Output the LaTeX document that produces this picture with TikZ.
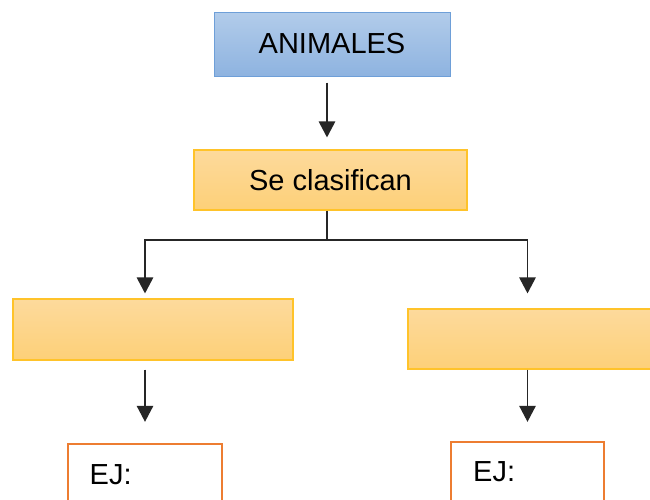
\documentclass[tikz,border=0pt]{standalone}
\usepackage{fontspec}
\setmainfont{Liberation Sans}
\usetikzlibrary{arrows.meta}
\definecolor{bluetop}{HTML}{B2CCEA}
\definecolor{bluebot}{HTML}{8EB3E0}
\definecolor{blueline}{HTML}{6E9FD8}
\definecolor{ortop}{HTML}{FDDA9C}
\definecolor{orbot}{HTML}{FDD078}
\definecolor{orline}{HTML}{FFC32A}
\definecolor{ejline}{HTML}{ED7D31}
\tikzset{
  x=1pt, y=-1pt,
  bluebox/.style={draw=blueline, line width=1pt, top color=bluetop, bottom color=bluebot, inner sep=0pt},
  orbox/.style={draw=orline, line width=1.2pt, top color=ortop, bottom color=orbot, inner sep=0pt},
  ejbox/.style={draw=ejline, line width=2.4pt, fill=white, inner sep=0pt},
  lbl/.style={font=\fontsize{29}{33}\selectfont, inner sep=0pt},
  conn/.style={draw=black!85, line width=1.3pt},
  arr/.style={conn, -{Triangle[width=16.5pt,length=16pt]}},
}
\begin{document}
\begin{tikzpicture}
\useasboundingbox (0,0) rectangle (650,499);
\clip (0,0) rectangle (650,499);
\fill[white] (0,0) rectangle (650,499);
\node[bluebox, minimum width=236pt, minimum height=64pt] (a) at (332,44) {};
\node[lbl] (at) at (332,44) {ANIMALES};
\node[orbox, minimum width=273pt, minimum height=60pt] (b) at (330.5,180) {};
\node[lbl] (bt) at (330.5,180) {Se clasifican};
\node[orbox, minimum width=280pt, minimum height=61pt] (c) at (153,329.5) {};
\node[orbox, minimum width=282pt, minimum height=60pt] (d) at (549,339) {};
\node[ejbox, minimum width=154pt, minimum height=100pt] (ej1) at (145,494) {};
\node[ejbox, minimum width=153pt, minimum height=100pt] (ej2) at (527.5,492) {};
\node[lbl, anchor=base west] (t1) at (89.5,484) {EJ:};
\node[lbl, anchor=base west] (t2) at (473,481) {EJ:};
\coordinate (j) at (327,240);
\draw[arr, shorten <=6pt, shorten >=12pt] ([xshift=-5pt]a.south) -- ([xshift=-3.5pt]b.north);
\draw[conn] ([xshift=-3.5pt]b.south) -- (j);
\draw[arr, shorten >=5pt] (j) -| (c.north -| ej1.north);
\draw[arr, shorten >=15pt] (j) -| (d.north -| ej2.north);
\draw[arr, shorten <=9pt, shorten >=21pt] (c.south -| ej1.north) -- (ej1.north);
\draw[arr, shorten >=19pt] (d.south -| ej2.north) -- (ej2.north);
\end{tikzpicture}
\end{document}
